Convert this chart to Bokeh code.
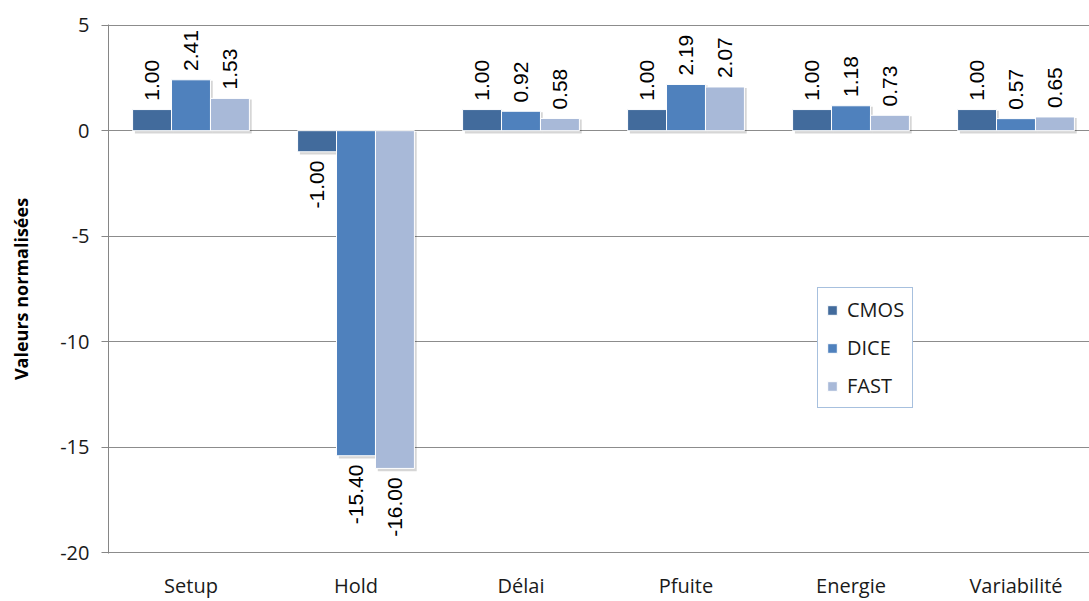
import numpy as np
from bokeh.plotting import figure
from bokeh.models import Range1d, FixedTicker, ColumnDataSource, Legend, LegendItem
from bokeh.core.properties import value
from bokeh.embed import file_html
from bokeh.resources import INLINE

categories = ["Setup", "Hold", "Délai", "Pfuite", "Energie", "Variabilité"]
series_names = ["CMOS", "DICE", "FAST"]
cmos = [1.00, -1.00, 1.00, 1.00, 1.00, 1.00]
dice = [2.41, -15.40, 0.92, 2.19, 1.18, 0.57]
fast = [1.53, -16.00, 0.58, 2.07, 0.73, 0.65]
y_ticks = [5, 0, -5, -10, -15, -20]
colors = ["#426B9C", "#4F81BD", "#A8B9D8"]

series = [cmos, dice, fast]
offsets = [-0.236, 0.0, 0.236]
bar_w = 0.236

p = figure(width=1089, height=601, output_backend="svg", toolbar_location=None,
           x_range=Range1d(0, 981 / 165), y_range=Range1d(-20.03, 5.03),
           min_border_left=108, min_border_right=0, min_border_top=24,
           min_border_bottom=48)
p.outline_line_color = None
p.background_fill_color = "white"

# axes
p.yaxis.ticker = FixedTicker(ticks=y_ticks)
p.yaxis.major_label_overrides = {t: str(t) for t in y_ticks}
p.yaxis.axis_line_color = "#868686"
p.yaxis.major_tick_line_color = "#868686"
p.yaxis.major_tick_out = 7
p.yaxis.major_tick_in = 0
p.yaxis.minor_tick_line_color = None
p.yaxis.major_label_standoff = 12
p.yaxis.major_label_text_font = "Open Sans"
p.yaxis.major_label_text_font_size = "20px"
p.yaxis.major_label_text_color = "#1a1a1a"
p.yaxis.axis_label = "Valeurs normalisées"
p.yaxis.axis_label_text_font = "Open Sans"
p.yaxis.axis_label_text_font_size = "18px"
p.yaxis.axis_label_text_font_style = "bold"
p.yaxis.axis_label_text_color = "#000000"
p.yaxis.axis_label_standoff = 24

p.xaxis.ticker = FixedTicker(ticks=[i + 0.5 for i in range(len(categories))])
p.xaxis.major_label_overrides = {i + 0.5: c for i, c in enumerate(categories)}
p.xaxis.axis_line_color = None
p.xaxis.major_tick_line_color = None
p.xaxis.minor_tick_line_color = None
p.xaxis.major_tick_out = 0
p.xaxis.major_label_standoff = 18
p.xaxis.major_label_text_font = "Open Sans"
p.xaxis.major_label_text_font_size = "20px"
p.xaxis.major_label_text_color = "#1a1a1a"

p.xgrid.grid_line_color = None
p.ygrid.ticker = FixedTicker(ticks=y_ticks)
p.ygrid.grid_line_color = "#8c8c8c"
p.ygrid.grid_line_width = 1

idx = np.arange(len(categories)) + 0.5
pad = 0.42
renderers = []
for k, (vals, name, col) in enumerate(zip(series, series_names, colors)):
    v = np.array(vals)
    x = idx + offsets[k]
    # soft shadow
    p.vbar(x=x + 0.014, width=bar_w, top=np.maximum(v, 0) - 0.05,
           bottom=np.minimum(v, 0) - 0.13, fill_color="black", fill_alpha=0.16,
           line_color=None)
    src = ColumnDataSource(dict(x=x, top=v))
    r = p.vbar(x="x", width=bar_w, top="top", bottom=0, source=src,
               fill_color=col, line_color="white", line_width=1)
    renderers.append((name, r))
    pos = v >= 0
    lbl = ["%.2f" % a for a in v]
    sp = ColumnDataSource(dict(x=x[pos], y=v[pos] + pad,
                               t=[l for l, q in zip(lbl, pos) if q]))
    sn = ColumnDataSource(dict(x=x[~pos], y=v[~pos] - pad,
                               t=[l for l, q in zip(lbl, pos) if not q]))
    p.text(x="x", y="y", text="t", source=sp, angle=np.pi / 2,
           text_align="left", text_baseline="middle",
           text_font=value("Liberation Sans"), text_font_size="21px",
           text_color="#000000", background_fill_color="white")
    p.text(x="x", y="y", text="t", source=sn, angle=np.pi / 2,
           text_align="right", text_baseline="middle",
           text_font=value("Liberation Sans"), text_font_size="21px",
           text_color="#000000", background_fill_color="white")

legend = Legend(items=[LegendItem(label=n, renderers=[r]) for n, r in renderers],
                location=(709, 145), orientation="vertical")
legend.border_line_color = "#4F81BD"
legend.border_line_width = 1.5
legend.background_fill_color = "white"
legend.background_fill_alpha = 1
legend.label_text_font = "Open Sans"
legend.label_text_font_size = "20px"
legend.label_text_color = "#1a1a1a"
legend.glyph_width = 12
legend.glyph_height = 12
legend.label_height = 27
legend.label_standoff = 9
legend.spacing = 11
legend.padding = 8
legend.margin = 0
p.add_layout(legend, "center")

open("out.html", "w").write(file_html(p, INLINE))
